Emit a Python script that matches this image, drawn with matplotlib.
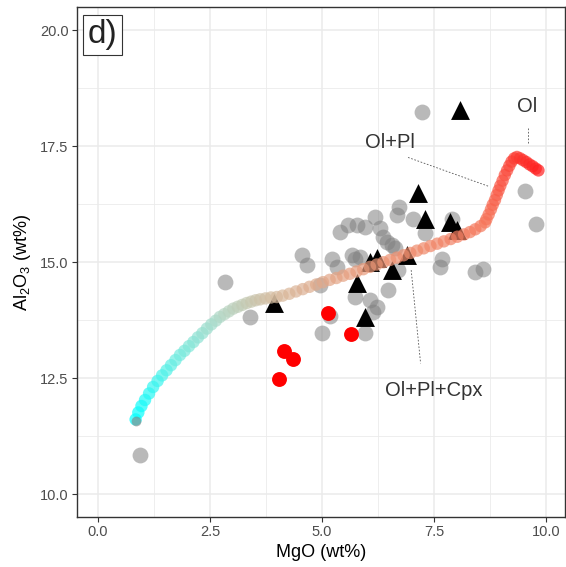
import matplotlib
matplotlib.use("Agg")
import matplotlib.pyplot as plt
import numpy as np
from matplotlib.colors import LinearSegmentedColormap

plt.rcParams['font.family'] = ['Liberation Sans', 'DejaVu Sans']
plt.rcParams['mathtext.default'] = 'regular'

# 样品数据 (MgO, Al2O3)
gray_x = [0.94, 2.83, 3.39, 4.55, 4.66, 4.96, 5.00, 5.18, 5.22, 5.33, 5.40, 5.59, 5.77, 5.96,
          6.18, 6.29, 6.37, 6.44, 6.56, 6.63, 6.67, 6.72, 7.04, 7.30, 5.66, 5.74, 5.85, 5.74,
          6.07, 6.22, 6.14, 5.96, 6.48, 6.70, 7.67, 7.63, 8.42, 8.60, 7.23, 9.53, 9.78, 7.90]
gray_y = [10.84, 14.57, 13.81, 15.15, 14.94, 14.50, 13.47, 13.84, 15.08, 14.90, 15.65, 15.80, 15.80, 15.76,
          15.98, 15.73, 15.55, 15.44, 15.37, 15.30, 16.01, 16.19, 15.94, 15.62, 15.15, 15.08, 15.11, 14.25,
          14.18, 14.04, 13.92, 13.47, 14.40, 14.83, 15.08, 14.90, 14.79, 14.86, 18.25, 16.53, 15.82, 15.93]

red_x = [4.04, 4.15, 4.35, 5.13, 5.65]
red_y = [12.48, 13.08, 12.91, 13.90, 13.45]

tri_x = [3.93, 8.08, 7.14, 7.30, 7.86, 8.01, 6.90, 6.56, 6.07, 6.23, 5.78, 5.96]
tri_y = [14.12, 18.28, 16.49, 15.93, 15.86, 15.69, 15.15, 14.83, 15.00, 15.09, 14.55, 13.81]

start_x = [0.84]
start_y = [11.58]

# 分离结晶模型曲线
model_x = [0.84, 0.90, 0.97, 1.05, 1.14, 1.23, 1.33, 1.43, 1.53, 1.63, 1.73, 1.83, 1.93, 2.03,
           2.13, 2.23, 2.33, 2.43, 2.53, 2.63, 2.72, 2.82, 2.92, 3.02, 3.12, 3.22, 3.32, 3.42,
           3.52, 3.62, 3.74, 3.86, 3.99,
           4.12, 4.27, 4.42, 4.57, 4.72, 4.87, 5.02, 5.17, 5.32, 5.47, 5.62, 5.77, 5.92, 6.07,
           6.22, 6.37, 6.52, 6.67, 6.82, 6.97, 7.12, 7.27, 7.42, 7.57, 7.72, 7.87, 8.02, 8.17,
           8.30, 8.42, 8.54,
           8.64, 8.67, 8.72, 8.77, 8.81, 8.86, 8.90, 8.94, 8.98, 9.03, 9.08, 9.13, 9.18, 9.23,
           9.29, 9.35,
           9.42, 9.49, 9.56, 9.63, 9.70, 9.77, 9.83]
model_y = [11.61, 11.76, 11.90, 12.03, 12.17, 12.31, 12.44, 12.56, 12.67, 12.78, 12.89, 13.00, 13.09, 13.19,
           13.28, 13.38, 13.47, 13.57, 13.66, 13.74, 13.82, 13.88, 13.94, 14.00, 14.04, 14.08, 14.12, 14.15,
           14.18, 14.20, 14.22, 14.24, 14.25,
           14.28, 14.32, 14.37, 14.42, 14.47, 14.52, 14.57, 14.62, 14.66, 14.71, 14.75, 14.80, 14.85, 14.90,
           14.95, 15.00, 15.05, 15.10, 15.15, 15.20, 15.25, 15.30, 15.35, 15.40, 15.45, 15.50, 15.55, 15.60,
           15.65, 15.71, 15.78,
           15.86, 15.93, 16.03, 16.14, 16.24, 16.34, 16.45, 16.55, 16.65, 16.76, 16.88, 16.98, 17.08, 17.17,
           17.24, 17.27,
           17.24, 17.20, 17.16, 17.11, 17.07, 17.02, 16.98]

cmap = LinearSegmentedColormap.from_list(
    'fc', [(0, '#00ffff'), (0.12, '#70ece0'), (0.24, '#b4d6c4'), (0.38, '#d8b99c'),
           (0.56, '#ec9272'), (0.75, '#f6765a'), (1, '#ff2020')])

fig = plt.figure(figsize=(5.66, 5.67), dpi=100)
ax = fig.add_axes([0.136, 0.088, 0.862, 0.899])

ax.scatter(gray_x, gray_y, s=130, color='gray', alpha=0.55, linewidths=0, zorder=2)
ax.scatter(tri_x, tri_y, s=185, marker='^', color='black', linewidths=0, zorder=3)
ax.scatter(red_x, red_y, s=115, color='red', linewidths=0, zorder=3)
ax.scatter(model_x, model_y, s=80, c=np.arange(len(model_x)), cmap=cmap,
           alpha=0.7, linewidths=0, zorder=4)
ax.scatter(start_x, start_y, s=50, color='gray', alpha=0.6, linewidths=0, zorder=5)

# 注释
txt = dict(fontsize=14.5, color='#333333', ha='center', va='center')
ax.text(9.58, 18.36, 'Ol', **txt)
ax.plot([9.60, 9.60], [17.89, 17.56], ls=(0, (2, 2)), lw=0.6, color='#555555', zorder=1)
ax.text(6.52, 17.59, 'Ol+Pl', **txt)
ax.plot([6.92, 8.71], [17.26, 16.64], ls=(0, (2, 2)), lw=0.6, color='#555555', zorder=1)
ax.text(7.49, 12.24, 'Ol+Pl+Cpx', **txt)
ax.plot([6.99, 7.20], [14.83, 12.82], ls=(0, (2, 2)), lw=0.6, color='#555555', zorder=1)

ax.text(0.052, 0.946, 'd)', transform=ax.transAxes, fontsize=24, color='#222222',
        ha='center', va='center',
        bbox=dict(boxstyle='square,pad=0.14', fc='white', ec='#333333', lw=0.8))

ax.set_xlim(-0.469, 10.42)
ax.set_ylim(9.504, 20.496)
ax.set_xticks([0, 2.5, 5, 7.5, 10])
ax.set_yticks([10, 12.5, 15, 17.5, 20])
ax.set_xticks([1.25, 3.75, 6.25, 8.75], minor=True)
ax.set_yticks([11.25, 13.75, 16.25, 18.75], minor=True)
ax.set_xticklabels(['0.0', '2.5', '5.0', '7.5', '10.0'])
ax.set_yticklabels(['10.0', '12.5', '15.0', '17.5', '20.0'])
ax.grid(which='major', color='#ebebeb', lw=1.1, zorder=0)
ax.grid(which='minor', color='#ebebeb', lw=0.6, zorder=0)
ax.set_axisbelow(True)
ax.tick_params(which='major', length=3.5, width=0.8, color='#333333', labelsize=10.5,
               labelcolor='#4d4d4d', pad=2.5)
ax.tick_params(which='minor', length=0)
for s in ax.spines.values():
    s.set_color('#333333')
    s.set_linewidth(1.0)

ax.set_xlabel('MgO (wt%)', fontsize=13, labelpad=3)
ax.set_ylabel('Al$_2$O$_3$ (wt%)', fontsize=13, labelpad=5)

fig.savefig('out.png', dpi=100)
